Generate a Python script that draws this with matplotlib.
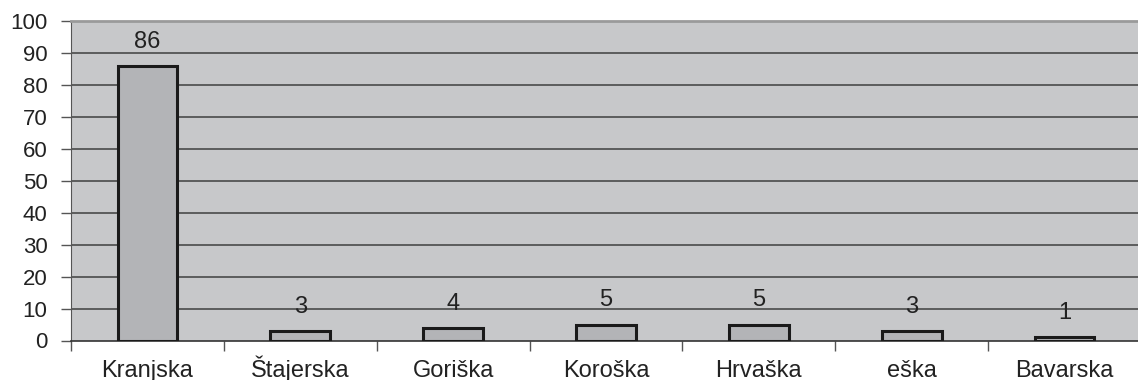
import numpy as np
import matplotlib
matplotlib.use("Agg")
from matplotlib import pyplot as plt
from matplotlib.ticker import FixedLocator

regions = ["Kranjska", "Štajerska", "Goriška", "Koroška", "Hrvaška", "eška", "Bavarska"]
counts = [86, 3, 4, 5, 5, 3, 1]
yticks = [0, 10, 20, 30, 40, 50, 60, 70, 80, 90, 100]

plt.rcParams['font.family'] = ['Liberation Sans', 'DejaVu Sans']

fig = plt.figure(figsize=(11.38, 3.8), dpi=100)
ax = fig.add_axes([71 / 1138, 1 - 340.5 / 380, 1070 / 1138, 319.5 / 380])
ax.set_facecolor('#c7c8ca')

x = np.arange(len(regions))
ax.bar(x, counts, width=0.39, color='#b3b4b7', edgecolor='#1a1a1a', linewidth=2.2, zorder=3)

# value labels above the bars
for xi, v in zip(x, counts):
    ax.annotate(str(v), (xi, v), xytext=(0, 13), textcoords='offset points',
                ha='center', va='baseline', fontsize=17, color='#222222', zorder=4)

ax.set_xlim(-0.5, len(regions) - 0.5)
ax.set_ylim(0, 100)
ax.set_yticks(yticks)
for t in yticks[1:-1]:
    ax.axhline(t, color='#4a4a4a', linewidth=1.2, zorder=1)

ax.set_xticks(x)
ax.set_xticklabels(regions, fontsize=17, color='#222222', va='baseline')
ax.xaxis.set_minor_locator(FixedLocator(np.arange(-0.5, len(regions), 1.0)))
ax.tick_params(axis='x', which='major', length=0, pad=26)
ax.tick_params(axis='x', which='minor', length=7, width=1, color='#555555', direction='out')
ax.tick_params(axis='y', length=7, width=1, color='#555555', pad=10, labelsize=16, labelcolor='#222222')

ax.spines['right'].set_visible(False)
ax.spines['top'].set_color('#9a9a9a')
ax.spines['top'].set_linewidth(2)
ax.spines['left'].set_color('#555555')
ax.spines['bottom'].set_color('#333333')
ax.spines['bottom'].set_linewidth(1.2)

fig.savefig('out.png', dpi=100)
